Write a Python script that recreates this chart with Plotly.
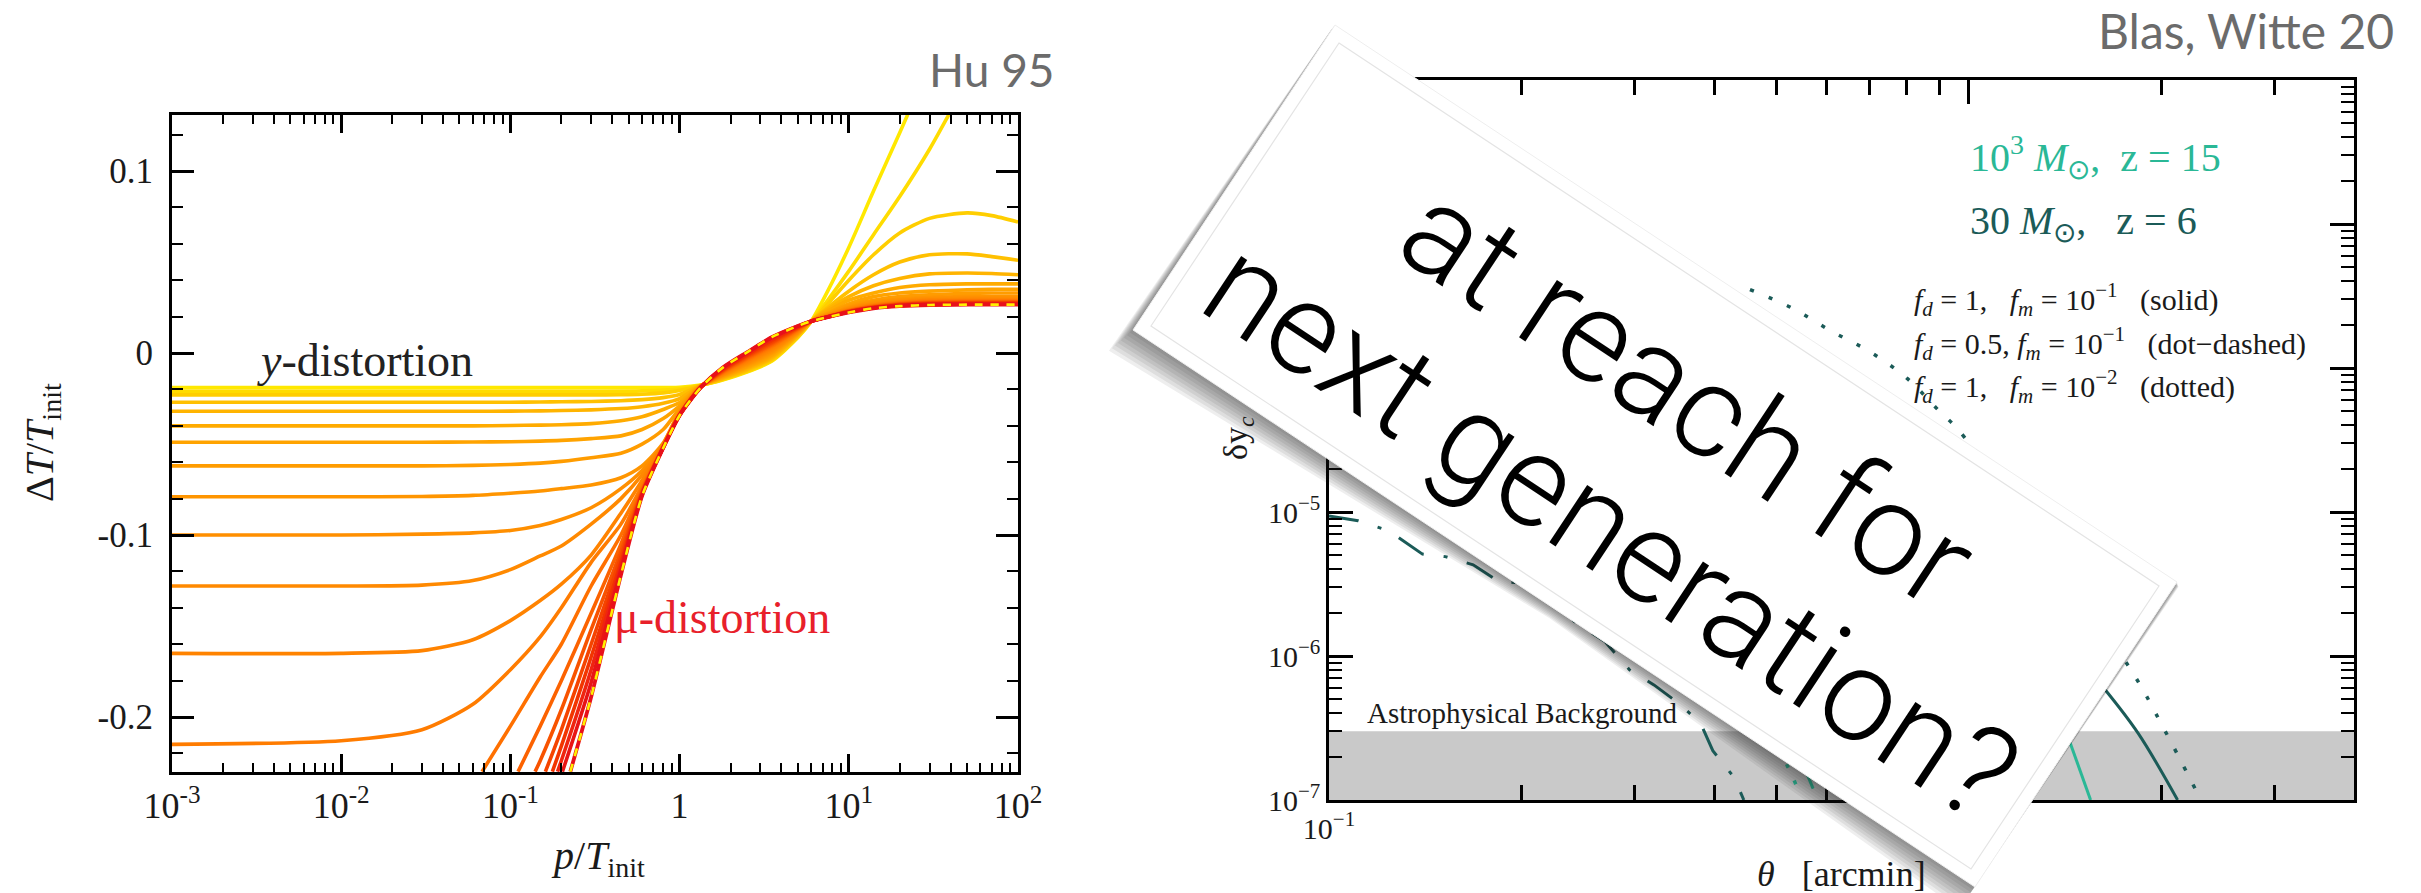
import plotly.graph_objects as go

W, H = 2421, 893

# ---------------- left panel (Hu 95) ----------------
P_GRID = [0.001, 0.01, 0.03, 0.06, 0.1, 0.15, 0.2, 0.3, 0.45, 0.6, 0.8, 1.0, 1.33, 1.8,
          2.5, 3.5, 5, 6, 7.5, 10, 14, 20, 30, 50, 70, 100]

P_C00 = [0.001, 0.01, 0.1, 0.3, 0.6, 1.0, 1.33, 1.8, 2.5, 3.5, 5, 6, 7.5, 10, 14, 20, 22.3]
DT_C00 = [-0.019, -0.019, -0.019, -0.019, -0.019, -0.0188, -0.0176, -0.0148, -0.0105, -0.0045,
          0.0085, 0.0175, 0.034, 0.058, 0.089, 0.121, 0.131]
P_C01 = [0.001, 0.01, 0.1, 0.3, 0.6, 1.0, 1.33, 1.8, 2.5, 3.5, 5, 6, 7.5, 10, 14, 20, 30, 39]
DT_C01 = [-0.021, -0.021, -0.021, -0.021, -0.0208, -0.0196, -0.0178, -0.0146, -0.0102, -0.0041,
          0.0088, 0.0175, 0.029, 0.045, 0.065, 0.086, 0.112, 0.131]
DT_C02 = [-0.023, -0.023, -0.023, -0.023, -0.023, -0.023, -0.023, -0.023, -0.0229, -0.0226, -0.0219,
          -0.0205, -0.0178, -0.0144, -0.0099, -0.0038, 0.0090, 0.0175, 0.027, 0.040, 0.054, 0.066,
          0.074, 0.077, 0.0755, 0.072]
DT_C03 = [-0.027, -0.027, -0.027, -0.027, -0.027, -0.0269, -0.0268, -0.0266, -0.0262, -0.0256, -0.0245,
          -0.0228, -0.0178, -0.0140, -0.0093, -0.0031, 0.0095, 0.0175, 0.025, 0.034, 0.043, 0.050,
          0.054, 0.0545, 0.053, 0.051]
DT_C04 = [-0.032, -0.032, -0.032, -0.032, -0.0319, -0.0318, -0.0316, -0.0312, -0.0305, -0.0295, -0.0276,
          -0.0250, -0.0179, -0.0137, -0.0088, -0.0024, 0.0100, 0.0175, 0.024, 0.031, 0.037, 0.041,
          0.0435, 0.044, 0.0437, 0.043]
DT_C05 = [-0.040, -0.040, -0.040, -0.040, -0.0398, -0.0396, -0.0394, -0.0388, -0.0372, -0.0350, -0.0310,
          -0.0272, -0.0180, -0.0133, -0.0082, -0.0017, 0.0103, 0.0175, 0.023, 0.029, 0.033, 0.036,
          0.0375, 0.038, 0.038, 0.038]
DT_C06 = [-0.049, -0.049, -0.049, -0.0489, -0.0487, -0.0484, -0.0480, -0.0470, -0.0455, -0.0420, -0.0360,
          -0.0290, -0.0181, -0.0130, -0.0076, -0.0010, 0.0106, 0.0175, 0.022, 0.027, 0.031, 0.033,
          0.034, 0.0347, 0.035, 0.035]
DT_C07 = [-0.062, -0.062, -0.062, -0.0617, -0.0612, -0.0605, -0.0595, -0.0575, -0.0550, -0.0500, -0.0420,
          -0.0305, -0.0182, -0.0126, -0.0070, -0.0003, 0.0110, 0.0175, 0.0215, 0.026, 0.029, 0.031,
          0.032, 0.0328, 0.033, 0.033]
DT_C08 = [-0.079, -0.079, -0.0788, -0.0782, -0.0770, -0.0758, -0.0745, -0.0725, -0.0685, -0.0620, -0.0495,
          -0.0322, -0.0183, -0.0123, -0.0064, 0.0004, 0.0113, 0.0175, 0.021, 0.025, 0.028, 0.0295,
          0.0305, 0.031, 0.031, 0.031]
DT_C09 = [-0.100, -0.100, -0.0995, -0.0988, -0.0975, -0.0948, -0.0915, -0.0850, -0.0745, -0.0645, -0.0500,
          -0.0327, -0.0184, -0.0120, -0.0058, 0.0011, 0.0116, 0.0175, 0.0208, 0.0245, 0.0272, 0.0288,
          0.0298, 0.0302, 0.0302, 0.0302]
DT_C10 = [-0.128, -0.128, -0.1275, -0.1250, -0.1190, -0.1115, -0.1060, -0.0940, -0.0800, -0.0670, -0.0505,
          -0.0331, -0.0185, -0.0117, -0.0052, 0.0018, 0.0119, 0.0175, 0.0205, 0.0240, 0.0266, 0.0282,
          0.0292, 0.0296, 0.0296, 0.0296]
DT_C11 = [-0.165, -0.165, -0.1635, -0.1575, -0.1470, -0.1360, -0.1270, -0.1110, -0.0880, -0.0700, -0.0508,
          -0.0334, -0.0186, -0.0113, -0.0046, 0.0025, 0.0122, 0.0175, 0.0203, 0.0237, 0.0263, 0.0279,
          0.0288, 0.0291, 0.0291, 0.0291]
DT_C12 = [-0.215, -0.213, -0.2070, -0.1930, -0.1740, -0.1560, -0.1400, -0.1150, -0.0940, -0.0730, -0.0511,
          -0.0336, -0.0186, -0.0110, -0.0040, 0.0032, 0.0125, 0.0175, 0.0201, 0.0235, 0.0260, 0.0276,
          0.0284, 0.0287, 0.0287, 0.0287]

P_C13 = [0.068, 0.1, 0.15, 0.2, 0.3, 0.45, 0.6, 0.8, 1.0, 1.33, 1.8, 2.5, 3.5, 5, 6, 7.5, 10, 14, 20, 30, 50, 100]
DT_C13 = [-0.230, -0.205, -0.178, -0.160, -0.128, -0.100, -0.0745, -0.0512, -0.0337, -0.0187, -0.0106,
          -0.0034, 0.0039, 0.0128, 0.0175, 0.0200, 0.0233, 0.0257, 0.0273, 0.0281, 0.0284, 0.0284]
P_C14 = [0.111, 0.15, 0.2, 0.3, 0.45, 0.6, 0.8, 1.0, 1.33, 1.8, 2.5, 3.5, 5, 6, 7.5, 10, 14, 20, 30, 50, 100]
DT_C14 = [-0.230, -0.205, -0.180, -0.143, -0.105, -0.0755, -0.0514, -0.0338, -0.0188, -0.0102, -0.0028,
          0.0046, 0.0132, 0.0175, 0.0200, 0.0231, 0.0255, 0.0271, 0.0278, 0.0281, 0.0281]
P_C15 = [0.14, 0.15, 0.2, 0.3, 0.45, 0.6, 0.8, 1.0, 1.33, 1.8, 2.5, 3.5, 5, 6, 7.5, 10, 14, 20, 30, 50, 100]
DT_C15 = [-0.230, -0.224, -0.196, -0.152, -0.109, -0.0763, -0.0516, -0.0339, -0.0188, -0.0098, -0.0022,
          0.0053, 0.0136, 0.0175, 0.0199, 0.0230, 0.0253, 0.0268, 0.0275, 0.0278, 0.0278]
P_C16 = [0.161, 0.2, 0.3, 0.45, 0.6, 0.8, 1.0, 1.33, 1.8, 2.5, 3.5, 5, 6, 7.5, 10, 14, 20, 30, 50, 100]
DT_C16 = [-0.230, -0.207, -0.160, -0.112, -0.0768, -0.0517, -0.0340, -0.0189, -0.0095, -0.0016, 0.0060,
          0.0139, 0.0175, 0.0199, 0.0228, 0.0251, 0.0266, 0.0273, 0.0276, 0.0276]
P_C17 = [0.177, 0.2, 0.3, 0.45, 0.6, 0.8, 1.0, 1.33, 1.8, 2.5, 3.5, 5, 6, 7.5, 10, 14, 20, 30, 50, 100]
DT_C17 = [-0.230, -0.216, -0.167, -0.115, -0.0772, -0.0518, -0.0340, -0.0189, -0.0091, -0.0010, 0.0068,
          0.0142, 0.0175, 0.0199, 0.0227, 0.0250, 0.0264, 0.0271, 0.0274, 0.0274]
P_C18 = [0.19, 0.2, 0.3, 0.45, 0.6, 0.8, 1.0, 1.33, 1.8, 2.5, 3.5, 5, 6, 7.5, 10, 14, 20, 30, 50, 100]
DT_C18 = [-0.230, -0.224, -0.174, -0.117, -0.0776, -0.0519, -0.0341, -0.0190, -0.0087, -0.0004, 0.0076,
          0.0145, 0.0175, 0.0198, 0.0226, 0.0249, 0.0262, 0.0269, 0.0271, 0.0271]
P_C19 = [0.203, 0.3, 0.45, 0.6, 0.8, 1.0, 1.33, 1.8, 2.5, 3.5, 5, 6, 7.5, 10, 14, 20, 30, 50, 100]
DT_C19 = [-0.230, -0.181, -0.119, -0.0780, -0.0520, -0.0342, -0.0190, -0.0082, 0.0002, 0.0085, 0.0148,
          0.0175, 0.0198, 0.0225, 0.0248, 0.0260, 0.0266, 0.0268, 0.0268]
P_MU = [0.226, 0.3, 0.45, 0.6, 0.8, 1.0, 1.33, 1.8, 2.5, 3.5, 5, 6, 7.5, 10, 14, 20, 30, 50, 100]
DT_MU = [-0.230, -0.189, -0.122, -0.0785, -0.0522, -0.0343, -0.0190, -0.0080, 0.0004, 0.0087, 0.0149,
         0.0175, 0.0197, 0.0223, 0.0246, 0.0258, 0.0264, 0.0266, 0.0266]

CURVE_COLORS = ["#FFE800", "#FFDC00", "#FFCE00", "#FFC000", "#FFB400", "#FFAB00", "#FFA300",
                "#FF9C00", "#FF9500", "#FF8F00", "#FF8900", "#FF8300", "#FF7C00", "#FF7000",
                "#FC6200", "#F85300", "#F54400", "#F23500", "#EF2510", "#E81515"]

P_TICKS = [0.001, 0.01, 0.1, 1, 10, 100]
P_TICK_TEXT = ["10<sup>-3</sup>", "10<sup>-2</sup>", "10<sup>-1</sup>", "1", "10<sup>1</sup>", "10<sup>2</sup>"]
DT_TICKS = [-0.2, -0.1, 0, 0.1]
DT_TICK_TEXT = ["-0.2", "-0.1", "0", "0.1"]

# ---------------- right panel (Blas, Witte 20) ----------------
TH_DARK_DASHDOT = [0.100, 0.111, 0.124, 0.140, 0.152, 0.168, 0.184, 0.204, 0.226, 0.243, 0.270, 0.295,
                   0.322, 0.352, 0.381, 0.398, 0.430, 0.445]
DY_DARK_DASHDOT = [9.4e-6, 8.7e-6, 7.4e-6, 5.1e-6, 4.9e-6, 4.3e-6, 3.3e-6, 3.2e-6, 2.3e-6, 1.7e-6, 1.26e-6,
                   8.0e-7, 6.3e-7, 4.7e-7, 3.4e-7, 2.2e-7, 1.43e-7, 1.0e-7]
TH_DARK_SOLID = [1.63, 1.84, 2.12]
DY_DARK_SOLID = [5.9e-7, 2.9e-7, 1.0e-7]
TH_DARK_DOTTED = [0.455, 0.53, 0.61, 0.70, 0.80, 0.90, 0.964, 1.78, 2.02, 2.26]
DY_DARK_DOTTED = [3.5e-4, 2.6e-4, 1.8e-4, 1.3e-4, 8.5e-5, 5.0e-5, 3.7e-5, 8.4e-7, 3.1e-7, 1.19e-7]
TH_LIGHT_SOLID = [1.44, 1.55]
DY_LIGHT_SOLID = [2.5e-7, 1.0e-7]
TH_LIGHT_DOTTED = [0.505, 0.543]
DY_LIGHT_DOTTED = [2.3e-7, 1.15e-7]
TH_LIGHT_DASHDOT = [0.556, 0.571]
DY_LIGHT_DASHDOT = [1.6e-7, 1.2e-7]
BG_THETA = [0.1, 4.0]
BG_LOW, BG_HIGH = 1e-7, 3e-7

TH_TICKS = [0.1, 1]
TH_TICK_TEXT = ["10<sup>\u22121</sup>", "10<sup>0</sup>"]
DY_TICKS = [1e-7, 1e-6, 1e-5, 1e-4, 1e-3, 1e-2]
DY_TICK_TEXT = ["10<sup>\u22127</sup>", "10<sup>\u22126</sup>", "10<sup>\u22125</sup>",
                "10<sup>\u22124</sup>", "10<sup>\u22123</sup>", ""]

LIGHT_TEAL = "#2ab896"
DARK_TEAL = "#1b5b58"
SERIF = "Liberation Serif, Times New Roman, serif"


def fx(p):
    return p / W


def fy(p):
    return 1 - p / H


fig = go.Figure()

left_curves = [
    (P_C00, DT_C00), (P_C01, DT_C01),
    (P_GRID, DT_C02), (P_GRID, DT_C03), (P_GRID, DT_C04), (P_GRID, DT_C05), (P_GRID, DT_C06),
    (P_GRID, DT_C07), (P_GRID, DT_C08), (P_GRID, DT_C09), (P_GRID, DT_C10), (P_GRID, DT_C11),
    (P_GRID, DT_C12), (P_C13, DT_C13), (P_C14, DT_C14), (P_C15, DT_C15), (P_C16, DT_C16),
    (P_C17, DT_C17), (P_C18, DT_C18), (P_C19, DT_C19),
]
for (xs, ys), col in zip(left_curves, CURVE_COLORS):
    fig.add_trace(go.Scatter(x=xs, y=ys, mode="lines", xaxis="x", yaxis="y",
                             line=dict(color=col, width=3.6, shape="spline", smoothing=0.7),
                             showlegend=False, hoverinfo="skip"))
fig.add_trace(go.Scatter(x=P_MU, y=DT_MU, mode="lines", xaxis="x", yaxis="y",
                         line=dict(color="#E8101A", width=3.8, shape="spline", smoothing=0.7),
                         showlegend=False, hoverinfo="skip"))
fig.add_trace(go.Scatter(x=P_MU, y=DT_MU, mode="lines", xaxis="x", yaxis="y",
                         line=dict(color="#FFF000", width=2.6, shape="spline", smoothing=0.7,
                                   dash="8px,8px"),
                         showlegend=False, hoverinfo="skip"))

# right panel traces
fig.add_trace(go.Scatter(x=[BG_THETA[0], BG_THETA[1], BG_THETA[1], BG_THETA[0]],
                         y=[BG_LOW, BG_LOW, BG_HIGH, BG_HIGH], fill="toself", mode="lines",
                         fillcolor="#c9c9c9", line=dict(width=0, color="#c9c9c9"),
                         xaxis="x2", yaxis="y2", showlegend=False, hoverinfo="skip"))
fig.add_trace(go.Scatter(x=TH_DARK_DASHDOT, y=DY_DARK_DASHDOT, mode="lines", xaxis="x2", yaxis="y2",
                         line=dict(color=DARK_TEAL, width=3, dash="30px,20px,4px,20px"),
                         showlegend=False, hoverinfo="skip"))
fig.add_trace(go.Scatter(x=TH_DARK_SOLID, y=DY_DARK_SOLID, mode="lines", xaxis="x2", yaxis="y2",
                         line=dict(color=DARK_TEAL, width=3, shape="spline"),
                         showlegend=False, hoverinfo="skip"))
fig.add_trace(go.Scatter(x=TH_DARK_DOTTED, y=DY_DARK_DOTTED, mode="lines", xaxis="x2", yaxis="y2",
                         line=dict(color=DARK_TEAL, width=3.5, dash="4px,16px", shape="spline"),
                         showlegend=False, hoverinfo="skip"))
fig.add_trace(go.Scatter(x=TH_LIGHT_SOLID, y=DY_LIGHT_SOLID, mode="lines", xaxis="x2", yaxis="y2",
                         line=dict(color=LIGHT_TEAL, width=3),
                         showlegend=False, hoverinfo="skip"))
fig.add_trace(go.Scatter(x=TH_LIGHT_DOTTED, y=DY_LIGHT_DOTTED, mode="lines", xaxis="x2", yaxis="y2",
                         line=dict(color=LIGHT_TEAL, width=3.5, dash="4px,14px"),
                         showlegend=False, hoverinfo="skip"))
fig.add_trace(go.Scatter(x=TH_LIGHT_DASHDOT, y=DY_LIGHT_DASHDOT, mode="lines", xaxis="x2", yaxis="y2",
                         line=dict(color=LIGHT_TEAL, width=3),
                         showlegend=False, hoverinfo="skip"))

minor_left_x = [m * 10.0 ** e for e in range(-3, 2) for m in range(2, 10)]
minor_right_x = [m * 0.1 for m in range(2, 10)] + [2.0, 3.0]
minor_right_y = [m * 10.0 ** e for e in range(-7, -2) for m in range(2, 10)]

axis_common = dict(showline=True, linecolor="black", mirror="allticks", ticks="inside",
                   tickcolor="black", showgrid=False, zeroline=False, automargin=False)

fig.update_layout(
    template="none",
    width=W, height=H, margin=dict(l=0, r=0, t=0, b=0, pad=0, autoexpand=False),
    paper_bgcolor="white", plot_bgcolor="white",
    font=dict(family=SERIF, color="#1a1a1a"),
    xaxis=dict(type="log", range=[-3, 2], domain=[fx(172), fx(1018)], anchor="y",
               linewidth=3, ticklen=18, tickwidth=3, tickmode="array", tickvals=P_TICKS,
               ticktext=P_TICK_TEXT, tickfont=dict(size=36, family=SERIF, color="#1a1a1a"),
               minor=dict(ticks="inside", ticklen=9, tickwidth=2, tickcolor="black",
                          tickvals=minor_left_x, showgrid=False),
               **axis_common),
    yaxis=dict(range=[-0.2302, 0.1308], domain=[fy(772), fy(115)], anchor="x",
               linewidth=3, ticklen=22, tickwidth=3, tickmode="array", tickvals=DT_TICKS,
               ticktext=DT_TICK_TEXT, tickfont=dict(size=35, family=SERIF, color="#1a1a1a"),
               ticklabelstandoff=9,
               minor=dict(ticks="inside", ticklen=11, tickwidth=2, tickcolor="black",
                          dtick=0.02, tick0=0, showgrid=False),
               **axis_common),
    xaxis2=dict(type="log", range=[-1, 0.60206], domain=[fx(1329), fx(2354)], anchor="y2",
                linewidth=2.5, ticklen=24, tickwidth=2.5, tickmode="array", tickvals=TH_TICKS,
                ticktext=TH_TICK_TEXT, tickfont=dict(size=30, family=SERIF, color="#1a1a1a"),
                minor=dict(ticks="inside", ticklen=15, tickwidth=2.5, tickcolor="black",
                           tickvals=minor_right_x, showgrid=False),
                **axis_common),
    yaxis2=dict(type="log", range=[-7, -2], domain=[fy(800), fy(80)], anchor="x2",
                linewidth=2.5, ticklen=24, tickwidth=2.5, tickmode="array", tickvals=DY_TICKS,
                ticktext=DY_TICK_TEXT, tickfont=dict(size=30, family=SERIF, color="#1a1a1a"),
                minor=dict(ticks="inside", ticklen=13, tickwidth=2, tickcolor="black",
                           tickvals=minor_right_y, showgrid=False),
                **axis_common),
)

# ---------------- card overlay ----------------
T_, R_, B_, L_ = (1335, 25), (2177, 582), (1975, 887), (1133, 330)
M_ = ((L_[0] + B_[0]) / 2, (L_[1] + B_[1]) / 2)
CARD = [T_, R_, B_, L_]
INNER = [(1339, 43), (2159, 586), (1971, 869), (1151, 326)]


def path_of(pts):
    return "M " + " L ".join(f"{fx(x):.5f},{fy(y):.5f}" for x, y in pts) + " Z"


shapes = []
for k in range(8, 0, -1):
    pts = [(T_[0] - 0.5 * k, T_[1] + 0.6 * k),
           (L_[0] - 3.0 * k, L_[1] + 2.6 * k),
           (M_[0] - 0.6 * k, M_[1] + 1.2 * k),
           (B_[0] - 2.0 * k, B_[1] + 2.8 * k),
           (R_[0] + 0.2 * k, R_[1] + 0.6 * k)]
    shapes.append(dict(type="path", xref="paper", yref="paper", layer="above",
                       path=path_of(pts), fillcolor="rgba(30,30,30,0.075)", line=dict(width=0)))
shapes.append(dict(type="path", xref="paper", yref="paper", layer="above",
                   path=path_of(CARD), fillcolor="white", line=dict(width=1, color="#eeeeee")))
shapes.append(dict(type="path", xref="paper", yref="paper", layer="above",
                   path=path_of(INNER), fillcolor="rgba(0,0,0,0)", line=dict(width=1.2, color="#e4e4e4")))
fig.update_layout(shapes=shapes)

ann = []


def add_text(text, x, y, size, color="#1a1a1a", xanchor="center", yanchor="middle", angle=0,
             family=SERIF, weight=None):
    f = dict(size=size, color=color, family=family)
    if weight is not None:
        f["weight"] = weight
    ann.append(dict(text=text, x=fx(x), y=fy(y), xref="paper", yref="paper", showarrow=False,
                    xanchor=xanchor, yanchor=yanchor, textangle=angle, font=f))


GILL = "Lato, Open Sans, sans-serif"
add_text("Hu 95", 927, 69, 46, color="#6b6b6b", xanchor="left", family=GILL)
add_text("Blas, Witte 20", 2396, 30, 48, color="#6b6b6b", xanchor="right", family=GILL)

add_text("\u0394<i>T</i>/<i>T</i><sub>init</sub>", 42, 443, 40, angle=-90)
add_text("<i>p</i>/<i>T</i><sub>init</sub>", 598, 858, 40)
add_text("<i>y</i>-distortion", 365, 360, 46, color="#222222")
add_text("\u03bc-distortion", 722, 617, 46, color="#E8202A")

add_text("\u03b4y<sub><i>c</i></sub>", 1238, 438, 34, angle=-90)
add_text("<i>\u03b8</i>   [arcmin]", 1841, 874, 36)
add_text("Astrophysical Background", 1365, 713, 29, xanchor="left")
add_text("10<sup>3</sup> <i>M</i><sub>\u2299</sub>,  z = 15", 1968, 157, 40, color=LIGHT_TEAL, xanchor="left")
add_text("30 <i>M</i><sub>\u2299</sub>,   z = 6", 1968, 223, 40, color=DARK_TEAL, xanchor="left")
add_text("<i>f<sub>d</sub></i> = 1,   <i>f<sub>m</sub></i> = 10<sup>\u22121</sup>   (solid)",
         1912, 299, 30, xanchor="left")
add_text("<i>f<sub>d</sub></i> = 0.5, <i>f<sub>m</sub></i> = 10<sup>\u22121</sup>   (dot\u2212dashed)",
         1912, 343, 30, xanchor="left")
add_text("<i>f<sub>d</sub></i> = 1,   <i>f<sub>m</sub></i> = 10<sup>\u22122</sup>   (dotted)",
         1912, 386, 30, xanchor="left")

add_text("at reach for", 1688, 395, 130, color="black", angle=33.5,
         family="Roboto, Liberation Sans, sans-serif", weight=300)
add_text("next generation?", 1611, 529, 130, color="black", angle=33.5,
         family="Roboto, Liberation Sans, sans-serif", weight=300)
fig.update_layout(annotations=ann)

fig.write_html("out.html", config={"displayModeBar": False},
               post_script="document.body.style.margin='0';document.body.style.overflow='hidden';")
